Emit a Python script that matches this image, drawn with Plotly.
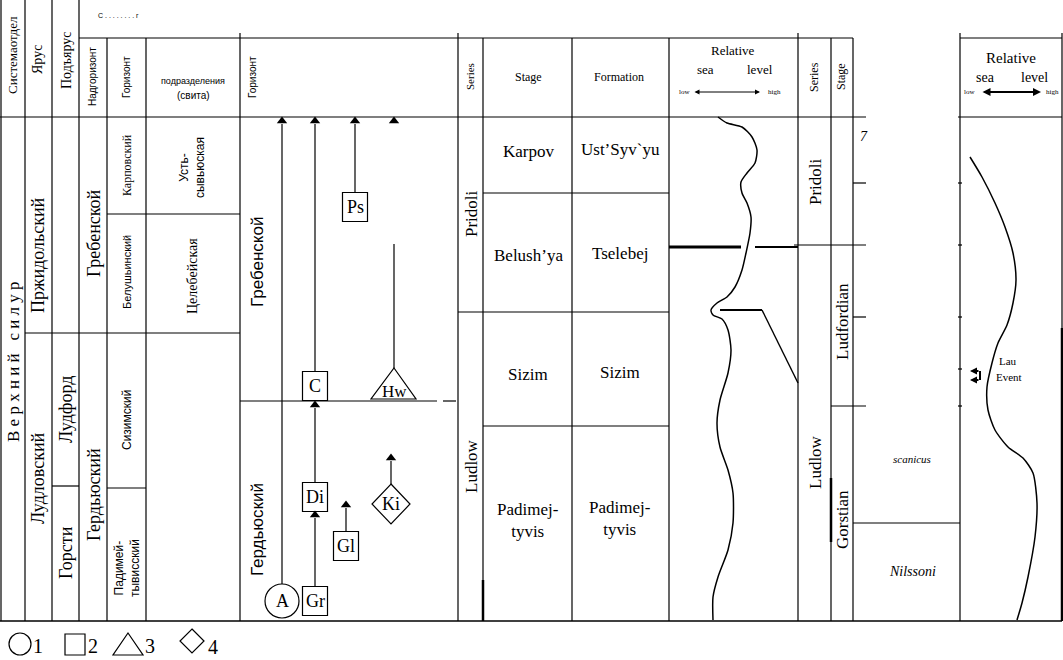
import plotly.graph_objects as go

W, H = 1063, 660
SERIF = "Liberation Serif, Times New Roman, serif"
SANS = "Liberation Sans, Arial, sans-serif"

# ---------------- data ----------------
# Russian regional scheme (left block)
ru_system = "В е р х н и й   с и л у р"
ru_stage_names = ["Пржидольский", "Лудловский"]
ru_stage_y = [255, 478]
ru_substage_names = ["Лудфорд", "Горсти"]
ru_substage_y = [410, 553]
ru_super_names = ["Гребенской", "Гердьюский"]
ru_super_y = [233, 495]
ru_horizon_names = ["Карповский", "Белушьинский", "Сизимский", "Падимей-<br>тывисский"]
ru_horizon_y = [165, 272, 420, 568]
ru_unit_names = ["Усть-<br>сывьюская", "Целебейская"]
ru_unit_y = [168, 276]

# Horizons in the taxon-range column
hz_names = ["Гребенской", "Гердьюский"]
hz_y = [262, 530]

# Taxa: label, symbol type, centre x, centre y, top of range, arrow at top
taxa_label = ["A", "Gr", "Di", "C", "Gl", "Ki", "Hw", "Ps"]
taxa_kind = ["circle", "square", "square", "square", "square", "diamond", "triangle", "square"]
taxa_x = [282, 315, 315, 315, 346, 391, 394, 355]
taxa_y = [601, 601, 497, 386, 546, 504, 388, 207]
taxa_top = [121, 515, 405, 121, 505, 458, 244, 121]
taxa_arrow = [True, True, True, True, True, True, False, True]
extra_arrow_x = [394]
extra_arrow_y = [121]

# International scale, first block
int_series = ["Pridoli", "Ludlow"]
int_series_y = [214, 466]
int_stage = ["Karpov", "Belush’ya", "Sizim", "Padimej-<br>tyvis"]
int_formation = ["Ust’Syv`yu", "Tselebej", "Sizim", "Padimej-<br>tyvis"]
int_unit_y = [151, 255, 374, 520]
int_bounds = [193, 312, 426]

# Relative sea level curve, first block
sl1_x = [718, 727, 742, 752, 757, 755, 747, 741, 742, 747, 751, 750, 746, 742, 735,
         727, 717, 711, 713, 722, 728, 731, 728, 720, 717, 720, 728, 733, 733, 728,
         718, 713, 713]
sl1_y = [117, 123, 127, 137, 150, 163, 173, 182, 193, 203, 217, 233, 253, 270, 287,
         297, 303, 310, 315, 319, 330, 350, 373, 400, 423, 447, 470, 493, 523, 550,
         577, 597, 620]

# Second block (global chart)
gl_series = ["Pridoli", "Ludlow"]
gl_series_y = [182, 462]
gl_stage = ["Ludfordian", "Gorstian"]
gl_stage_y = [322, 520]
gl_zone = ["7", "scanicus", "Nilssoni"]
gl_zone_xy = [(864, 136), (912, 459), (912, 571)]
sl2_x = [970, 982, 995, 1005, 1013, 1016, 1013, 1007, 998, 992, 987, 988, 995, 1008,
         1023, 1033, 1037, 1035, 1028, 1022, 1017]
sl2_y = [157, 177, 203, 227, 253, 280, 303, 325, 343, 363, 387, 410, 430, 447, 458,
         473, 503, 537, 577, 603, 620]

legend_labels = ["1", "2", "3", "4"]

# ---------------- figure ----------------
fig = go.Figure()
shapes = []
ann = []


def line(x0, y0, x1, y1, w=1.2):
    shapes.append(dict(type="line", x0=x0, y0=y0, x1=x1, y1=y1, xref="x", yref="y",
                       line=dict(color="black", width=w)))


def text(x, y, s, size=14, rot=0, italic=False, family=SERIF):
    if italic:
        s = "<i>" + s + "</i>"
    ann.append(dict(x=x, y=y, xref="x", yref="y", text=s, showarrow=False,
                    textangle=rot, font=dict(family=family, size=size, color="black"),
                    align="center"))


def arrow(x0, y0, x1, y1, w=1, size=1, both=False):
    ann.append(dict(x=x1, y=y1, ax=x0, ay=y0, xref="x", yref="y", axref="x", ayref="y",
                    showarrow=True, arrowhead=2, arrowside="end+start" if both else "end",
                    arrowwidth=w, arrowsize=size, arrowcolor="black", text=""))


# ---- grid lines: left block ----
for x in [1, 25, 52, 79]:
    line(x, 0, x, 621)
for x in [107, 146]:
    line(x, 38, x, 621)
line(240, 33, 240, 621)
line(79, 38, 458, 38)
line(458, 38, 853, 38)
line(960, 38, 1062, 38)
line(0, 117, 866, 117)
line(958, 117, 1062, 117)
line(0, 621, 1062, 621, 1.6)
line(25, 333, 240, 333)
line(52, 486, 79, 486)
line(107, 214, 240, 214)
line(107, 488, 146, 488)
# horizon boundary in taxon column
line(240, 401, 437, 401)
line(443, 401, 456, 401)

# ---- international block 1 ----
for x in [458, 798]:
    line(x, 33, x, 621)
for x in [483, 572, 669]:
    line(x, 38, x, 621)
line(483, 580, 483, 621, 2.5)
line(458, 312, 669, 312)
for b in [193, 426]:
    line(483, b, 669, b)
# thick correlation lines in sea-level column
line(669, 247, 741, 247, 3)
line(755, 247, 798, 247, 2)
line(720, 310, 762, 310, 2)
line(762, 310, 798, 383, 1.4)

# ---- international block 2 ----
line(831, 38, 831, 621)
line(831, 478, 831, 542, 2.5)
line(853, 38, 853, 621)
line(960, 33, 960, 621)
line(1062, 33, 1062, 621)
line(1062, 328, 1062, 621, 2.5)
line(794, 245, 866, 245)
line(831, 406, 866, 406)
line(958, 245, 962, 245)
line(958, 406, 962, 406)
for ty in [183, 317]:
    line(853, ty, 866, ty)
    line(958, ty, 962, ty)
line(958, 369, 962, 369)
line(853, 523, 960, 523)

# ---- headers ----
text(12, 55, "Системаотдел", 13, -90)
text(37, 60, "Ярус", 14, -90)
text(66, 60, "Подъярус", 14, -90)
text(92, 77, "Надгоризонт", 10, -90, family=SANS)
text(126, 77, "Горизонт", 10, -90, family=SANS)
text(118, 15, "С . . . . . . . . г", 7, family=SANS)
text(193, 81, "подразделения", 9, family=SANS)
text(193, 95, "(свита)", 10, family=SANS)
text(252, 77, "Горизонт", 10, -90, family=SANS)
text(470, 77, "Series", 11, -90)
text(528, 77, "Stage", 12)
text(619, 77, "Formation", 12)
text(733, 50, "Relative", 13)
text(705, 69, "sea", 13)
text(760, 69, "level", 13)
text(684, 92, "low", 7)
text(774, 92, "high", 7)
text(814, 77, "Series", 12, -90)
text(841, 77, "Stage", 12, -90)
text(1011, 58, "Relative", 15)
text(985, 77, "sea", 14)
text(1034, 77, "level", 14)
text(969, 92, "low", 7)
text(1052, 92, "high", 7)
arrow(693, 92, 760, 92, 1, 1, both=True)
arrow(981, 92, 1041, 92, 2, 0.8, both=True)

# ---- left block body texts ----
text(13, 362, ru_system, 17, -90)
for s, y in zip(ru_stage_names, ru_stage_y):
    text(38, y, s, 18, -90)
for s, y in zip(ru_substage_names, ru_substage_y):
    text(66, y, s, 18, -90)
for s, y in zip(ru_super_names, ru_super_y):
    text(94, y, s, 18, -90)
for i, (s, y) in enumerate(zip(ru_horizon_names, ru_horizon_y)):
    text(127, y, s, 12 if i != 1 else 11, -90, family=SERIF if i == 0 else SANS)
for s, y in zip(ru_unit_names, ru_unit_y):
    text(192, y, s, 12 if "<br>" in s else 14, -90, family=SANS if "<br>" in s else SERIF)
for s, y in zip(hz_names, hz_y):
    text(257, y, s, 17, -90, family=SANS)

# ---- taxon ranges ----
arrow_x, arrow_y = list(extra_arrow_x), list(extra_arrow_y)
for lab, kind, x, y, top, arr in zip(taxa_label, taxa_kind, taxa_x, taxa_y, taxa_top, taxa_arrow):
    if kind == "circle":
        start = y - 17
        shapes.append(dict(type="circle", x0=x - 17, x1=x + 17, y0=y - 17, y1=y + 17,
                           xref="x", yref="y", line=dict(color="black", width=1.2)))
    elif kind == "square":
        start = y - 14.5
        shapes.append(dict(type="rect", x0=x - 12.5, x1=x + 12.5, y0=y - 14.5, y1=y + 14.5,
                           xref="x", yref="y", line=dict(color="black", width=1.2)))
    elif kind == "diamond":
        start = y - 20
        shapes.append(dict(type="path", xref="x", yref="y",
                           path=f"M {x},{y-20} L {x+19},{y} L {x},{y+20} L {x-19},{y} Z",
                           line=dict(color="black", width=1.2)))
    else:
        start = y - 20
        shapes.append(dict(type="path", xref="x", yref="y",
                           path=f"M {x},{y-20} L {x+22},{y+11} L {x-23},{y+11} Z",
                           line=dict(color="black", width=1.2)))
    line(x, start, x, top + (3 if arr else 0))
    if arr:
        arrow_x.append(x)
        arrow_y.append(top)
    text(x, y + (3 if kind == "triangle" else 0), lab, 18 if kind != "triangle" else 17)

fig.add_trace(go.Scatter(x=arrow_x, y=arrow_y, mode="markers",
                         marker=dict(symbol="triangle-up", size=9, color="black"),
                         hoverinfo="skip", showlegend=False))

# ---- international block 1 texts ----
for s, y in zip(int_series, int_series_y):
    text(471, y, s, 17, -90)
for s, f, y in zip(int_stage, int_formation, int_unit_y):
    text(528, y, s, 17)
    text(620, y - 2, f, 17)

fig.add_trace(go.Scatter(x=sl1_x, y=sl1_y, mode="lines",
                         line=dict(color="black", width=1.5, shape="spline", smoothing=0.7),
                         hoverinfo="skip", showlegend=False))

# ---- block 2 texts ----
for s, y in zip(gl_series, gl_series_y):
    text(815, y, s, 17, -90)
for s, y in zip(gl_stage, gl_stage_y):
    text(842, y, s, 17, -90)
for s, (x, y) in zip(gl_zone, gl_zone_xy):
    text(x, y, s, 14 if s != "scanicus" else 11, italic=True)

fig.add_trace(go.Scatter(x=sl2_x, y=sl2_y, mode="lines",
                         line=dict(color="black", width=1.5, shape="spline", smoothing=0.7),
                         hoverinfo="skip", showlegend=False))
text(1008, 361, "Lau", 11)
text(1009, 377, "Event", 11)
for yy in [371, 380]:
    arrow(980, yy, 970, yy, 2, 0.7)
line(980, 371, 980, 380, 2)

# ---- legend ----
shapes.append(dict(type="circle", x0=9, x1=31, y0=633, y1=655, xref="x", yref="y",
                   line=dict(color="black", width=1.2)))
shapes.append(dict(type="rect", x0=65, x1=85, y0=634, y1=655, xref="x", yref="y",
                   line=dict(color="black", width=1.2)))
shapes.append(dict(type="path", xref="x", yref="y", path="M 128,633 L 143,655 L 113,655 Z",
                   line=dict(color="black", width=1.2)))
shapes.append(dict(type="path", xref="x", yref="y", path="M 192,629 L 204,641 L 192,653 L 180,641 Z",
                   line=dict(color="black", width=1.2)))
for s, x, y in zip(legend_labels, [38, 93, 150, 213], [646, 646, 646, 647]):
    text(x, y, s, 20)

fig.update_layout(
    width=W, height=H, margin=dict(l=0, r=0, t=0, b=0),
    paper_bgcolor="white", plot_bgcolor="white",
    xaxis=dict(range=[0, W], visible=False, fixedrange=True),
    yaxis=dict(range=[H, 0], visible=False, fixedrange=True),
    shapes=shapes, annotations=ann, showlegend=False,
)
fig.write_html("out.html", config={"displayModeBar": False},
               post_script="document.body.style.margin='0';document.body.style.overflow='hidden';")
